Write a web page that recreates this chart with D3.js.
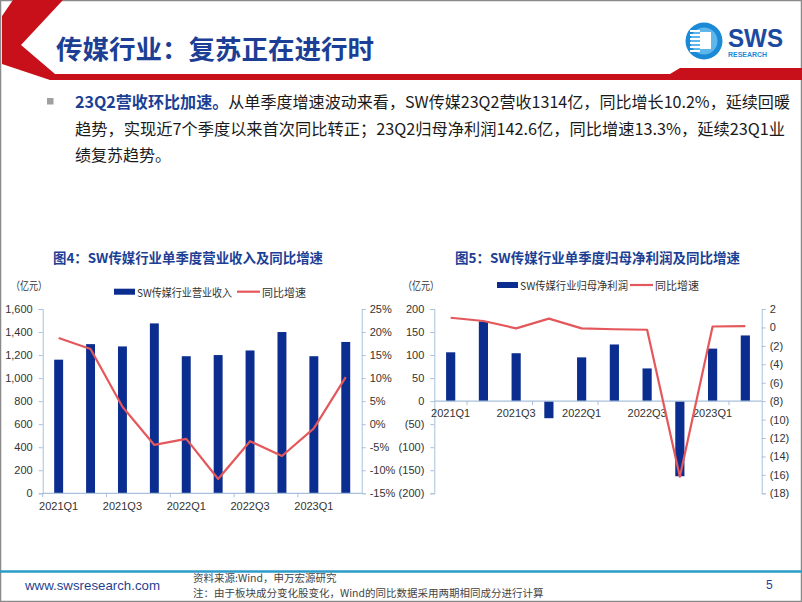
<!DOCTYPE html>
<html><head><meta charset="utf-8">
<script src="https://cdn.jsdelivr.net/npm/d3@7"></script>
<style>
body{margin:0;background:#fff;}
svg{display:block;}
text{font-family:"Liberation Sans",Arial,"Noto Sans CJK SC",sans-serif;}
.cjk{font-family:"Noto Sans CJK SC","Liberation Sans",sans-serif;}
</style></head>
<body>
<svg id="c" width="802" height="602"></svg>
<script>
// ---- data ----
const categories = ["2021Q1","2021Q2","2021Q3","2021Q4","2022Q1","2022Q2","2022Q3","2022Q4","2023Q1","2023Q2"];
const shownLabels = ["2021Q1","2021Q3","2022Q1","2022Q3","2023Q1"];
const revenue = [1160,1295,1275,1475,1190,1200,1240,1400,1190,1314];
const revenueYoY = [18.7,16.3,3.8,-4.5,-3.2,-11.9,-3.7,-6.9,-0.9,10.2];
const netProfit = [106,173,104,-37,95,123,71,-163,114,142.6];
const netProfitYoY = [1.05,0.7,-0.1,0.95,-0.1,-0.2,-0.25,-16.2,0.1,0.133];
const leftTicks = [0,200,400,600,800,1000,1200,1400,1600];
const leftRightTicks = [-15,-10,-5,0,5,10,15,20,25];
const rightTicks = [-200,-150,-100,-50,0,50,100,150,200];
const rightRightTicks = [-18,-16,-14,-12,-10,-8,-6,-4,-2,0,2];

const BAR="#0a2d8f", LINE="#e4575b", AX="#a9c0dc", TXT="#333", BLUE="#1c3f95";
const svg = d3.select("#c");

// ---- page frame & header ----
svg.append("rect").attr("x",0.5).attr("y",0.5).attr("width",801).attr("height",601)
  .attr("fill","none").attr("stroke","#8a8a8a").attr("stroke-width",1.5);
svg.append("polygon").attr("fill","#c8101a")
  .attr("points","13,0 63,0 21,45 55,74 670,74 680,68 802,68 802,80 50,80 2,64 2,16");
svg.append("text").attr("class","cjk").attr("x",56).attr("y",47).attr("dominant-baseline","central")
  .attr("font-size",26).attr("font-weight","bold").attr("fill",BLUE)
  .attr("textLength",318).attr("lengthAdjust","spacingAndGlyphs").text("传媒行业：复苏正在进行时");
// logo
const lg = svg.append("g");
lg.append("circle").attr("cx",704).attr("cy",41).attr("r",18.5).attr("fill","#1a8ad6");
lg.append("circle").attr("cx",704).attr("cy",41).attr("r",13.5).attr("fill","#5fb6ea");
[0,1,2,3,4,5].forEach(i=>lg.append("rect").attr("x",690).attr("y",30+i*4).attr("width",10).attr("height",2).attr("fill","#fff"));
lg.append("rect").attr("x",700).attr("y",32).attr("width",11).attr("height",17).attr("fill","#fff");
svg.append("text").attr("x",728).attr("y",47).attr("font-size",25).attr("font-weight","bold").attr("fill","#1c4aa0")
  .attr("textLength",55).attr("lengthAdjust","spacingAndGlyphs").text("SWS");
svg.append("text").attr("x",728).attr("y",57).attr("font-size",7).attr("font-weight","bold").attr("fill","#1a8ad6")
  .attr("textLength",39).attr("lengthAdjust","spacingAndGlyphs").text("RESEARCH");

// ---- body text ----
svg.append("rect").attr("x",47).attr("y",98).attr("width",6.5).attr("height",6.5).attr("fill","#a0a0a0");
const l1 = svg.append("text").attr("class","cjk").attr("x",75).attr("y",101).attr("dominant-baseline","central")
  .attr("font-size",16).attr("fill","#1a1a1a").attr("textLength",715).attr("lengthAdjust","spacingAndGlyphs");
l1.append("tspan").attr("font-weight","bold").attr("fill",BLUE).text("23Q2营收环比加速。");
l1.append("tspan").text("从单季度增速波动来看，SW传媒23Q2营收1314亿，同比增长10.2%，延续回暖");
svg.append("text").attr("class","cjk").attr("x",75).attr("y",128).attr("dominant-baseline","central")
  .attr("font-size",16).attr("fill","#1a1a1a").attr("textLength",710).attr("lengthAdjust","spacingAndGlyphs")
  .text("趋势，实现近7个季度以来首次同比转正；23Q2归母净利润142.6亿，同比增速13.3%，延续23Q1业");
svg.append("text").attr("class","cjk").attr("x",75).attr("y",154).attr("dominant-baseline","central")
  .attr("font-size",16).attr("fill","#1a1a1a").text("绩复苏趋势。");

// ---- chart helper ----
function chart(o){
  const g = svg.append("g");
  const x = d3.scaleBand().domain(categories).range([o.x0,o.x1]).paddingInner(0.72).paddingOuter(0.36);
  const yL = d3.scaleLinear().domain(o.lDom).range([o.yB,o.yT]);
  const yR = d3.scaleLinear().domain(o.rDom).range([o.yB,o.yT]);
  // title
  g.append("text").attr("class","cjk").attr("x",o.titleX).attr("y",256.5).attr("dominant-baseline","central")
    .attr("font-size",13.5).attr("font-weight","bold").attr("fill",BLUE)
    .attr("textLength",o.titleW).attr("lengthAdjust","spacingAndGlyphs").text(o.title);
  g.append("text").attr("class","cjk").attr("x",o.unitX).attr("y",285).attr("dominant-baseline","central")
    .attr("font-size",11).attr("fill",TXT).text("（亿元）").attr("textLength",36).attr("lengthAdjust","spacingAndGlyphs");
  // legend
  g.append("rect").attr("x",o.legX).attr("y",o.legY-3).attr("width",21).attr("height",6).attr("fill",BAR);
  g.append("text").attr("class","cjk").attr("x",o.legX+23).attr("y",o.legY).attr("dominant-baseline","central")
    .attr("font-size",11).attr("fill",TXT).attr("textLength",o.barNameW).attr("lengthAdjust","spacingAndGlyphs").text(o.barName);
  g.append("line").attr("x1",o.leg2X).attr("x2",o.leg2X+23).attr("y1",o.legY).attr("y2",o.legY)
    .attr("stroke",LINE).attr("stroke-width",2.2);
  g.append("text").attr("class","cjk").attr("x",o.leg2X+25).attr("y",o.legY).attr("dominant-baseline","central")
    .attr("font-size",11).attr("fill",TXT).text("同比增速");
  // axes
  const la = g.append("g").attr("transform",`translate(${o.x0},0)`)
    .call(d3.axisLeft(yL).tickValues(o.lTicks).tickFormat(o.lFmt).tickSize(4).tickPadding(6));
  const ra = g.append("g").attr("transform",`translate(${o.x1},0)`)
    .call(d3.axisRight(yR).tickValues(o.rTicks).tickFormat(o.rFmt).tickSize(4).tickPadding(4));
  [la,ra].forEach(a=>{
    a.selectAll("path,line").attr("stroke",AX);
    a.selectAll("text").attr("fill",TXT).attr("font-size",11).attr("font-family","Liberation Sans, Arial, sans-serif");
  });
  // bars
  g.selectAll(".bar").data(categories).join("rect")
    .attr("x",d=>x(d)).attr("width",x.bandwidth())
    .attr("y",(d,i)=>Math.min(yL(o.bars[i]),yL(0)))
    .attr("height",(d,i)=>Math.abs(yL(o.bars[i])-yL(0)))
    .attr("fill",BAR);
  // x axis
  const y0 = yL(0);
  g.append("line").attr("x1",o.x0).attr("x2",o.x1).attr("y1",y0).attr("y2",y0).attr("stroke",AX).attr("stroke-width",1.2);
  categories.forEach((c,i)=>{
    if((i+o.tickOff)%2===0){
      const px = (i===0)? o.x0 : x(c) - x.step()*x.paddingInner()/2;
      g.append("line").attr("x1",px).attr("x2",px).attr("y1",y0).attr("y2",y0+4).attr("stroke",AX);
    }
  });
  g.selectAll(".xl").data(shownLabels).join("text")
    .attr("x",d=>x(d)+x.bandwidth()/2).attr("y",o.xLabY).attr("text-anchor","middle").attr("dominant-baseline","central")
    .attr("font-size",11).attr("fill",TXT).text(d=>d);
  // line
  const line = d3.line().x((d,i)=>x(categories[i])+x.bandwidth()/2).y(d=>yR(d));
  g.append("path").datum(o.lineVals).attr("d",line).attr("fill","none").attr("stroke",LINE).attr("stroke-width",2.2)
    .attr("stroke-linejoin","round");
}

chart({x0:42.7,x1:361.7,yT:309,yB:493.3,lDom:[0,1600],rDom:[-15,25],
  lTicks:leftTicks,rTicks:leftRightTicks,lFmt:d3.format(","),rFmt:d=>d+"%",
  bars:revenue,lineVals:revenueYoY,tickOff:0,xLabY:505.5,
  title:"图4：SW传媒行业单季度营业收入及同比增速",titleX:53,titleW:270,unitX:11,
  legX:114,legY:291.7,leg2X:237,barName:"SW传媒行业营业收入",barNameW:95});

const par = d=> d<0? "("+Math.abs(d)+")" : String(d);
chart({x0:434.3,x1:761.7,yT:309,yB:493.3,lDom:[-200,200],rDom:[-18,2],
  lTicks:rightTicks,rTicks:rightRightTicks,lFmt:par,rFmt:par,
  bars:netProfit,lineVals:netProfitYoY,tickOff:1,xLabY:412.5,
  title:"图5：SW传媒行业单季度归母净利润及同比增速",titleX:455,titleW:285,unitX:403,
  legX:497,legY:285,leg2X:630,barName:"SW传媒行业归母净利润",barNameW:108});

// ---- footer ----
svg.append("line").attr("x1",0).attr("x2",802).attr("y1",571.5).attr("y2",571.5).attr("stroke","#2d9bc9").attr("stroke-width",2.5);
svg.append("text").attr("x",25).attr("y",585).attr("dominant-baseline","central").attr("font-size",13.5)
  .attr("fill","#1f3f8f").attr("textLength",135).attr("lengthAdjust","spacingAndGlyphs").text("www.swsresearch.com");
svg.append("text").attr("class","cjk").attr("x",193).attr("y",577).attr("dominant-baseline","central")
  .attr("font-size",10.5).attr("fill","#444").text("资料来源:Wind，申万宏源研究");
svg.append("text").attr("class","cjk").attr("x",193).attr("y",592).attr("dominant-baseline","central")
  .attr("font-size",10.5).attr("fill","#444").text("注：由于板块成分变化股变化，Wind的同比数据采用两期相同成分进行计算");
svg.append("text").attr("x",766).attr("y",585).attr("dominant-baseline","central").attr("font-size",12)
  .attr("fill","#1f3f8f").text("5");
</script>
</body></html>
